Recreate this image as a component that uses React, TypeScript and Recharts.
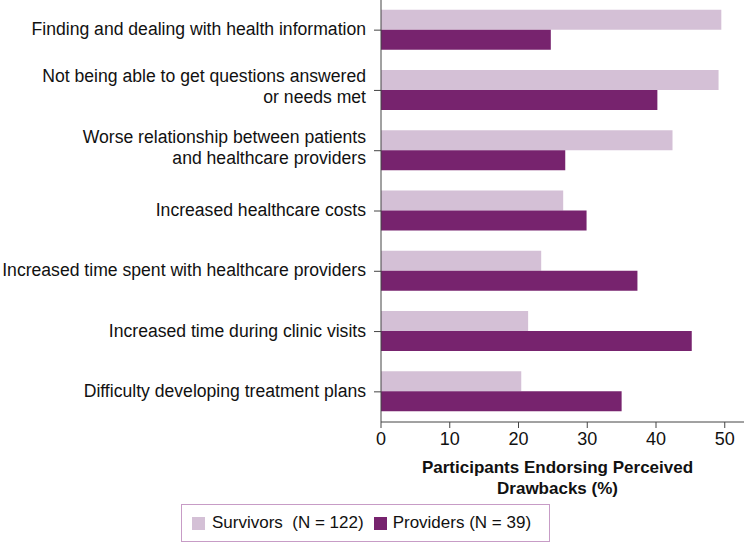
import React from 'react';
import { BarChart, Bar, XAxis, YAxis, Legend, Label } from 'recharts';

const categories: string[][] = [
  ['Finding and dealing with health information'],
  ['Not being able to get questions answered', 'or needs met'],
  ['Worse relationship between patients', 'and healthcare providers'],
  ['Increased healthcare costs'],
  ['Increased time spent with healthcare providers'],
  ['Increased time during clinic visits'],
  ['Difficulty developing treatment plans'],
];
const survivors: number[] = [49.5, 49.1, 42.4, 26.5, 23.3, 21.4, 20.4];
const providers: number[] = [24.7, 40.2, 26.8, 29.9, 37.3, 45.2, 35.0];
const xTicks: number[] = [0, 10, 20, 30, 40, 50];
const seriesNames = ['Survivors  (N = 122)', 'Providers (N = 39)'];

const LIGHT = '#d4c0d6';
const DARK = '#77236e';
const FONT = '"Liberation Sans", Arial, sans-serif';
const INK = '#111';

const data = categories.map((c, i) => ({
  name: c.join('|'),
  survivors: survivors[i],
  providers: providers[i],
}));

const CatTick = (props: any) => {
  const { x, y, payload } = props;
  const lines: string[] = String(payload.value).split('|');
  const lh = 21;
  const startDy = lines.length === 1 ? 5 : -8;
  return (
    <text x={x - 6} y={y} textAnchor="end" fontFamily={FONT} fontSize={17.6} fill={INK}>
      {lines.map((l, i) => (
        <tspan key={i} x={x - 6} dy={i === 0 ? startDy : lh}>
          {l}
        </tspan>
      ))}
    </text>
  );
};

const AxisTitle = (props: any) => {
  const vb = props.viewBox || {};
  const cx = vb.x + vb.width / 2 - 5;
  const y0 = vb.y + 51;
  return (
    <text x={cx} textAnchor="middle" fontFamily={FONT} fontWeight="bold" fontSize={17} fill={INK}>
      <tspan x={cx} y={y0}>Participants Endorsing Perceived</tspan>
      <tspan x={cx} y={y0 + 21}>Drawbacks (%)</tspan>
    </text>
  );
};

const LegendBox = () => (
  <div
    style={{
      border: '1px solid #c79cc6',
      width: 369,
      height: 38,
      boxSizing: 'border-box',
      display: 'flex',
      alignItems: 'center',
      paddingLeft: 10,
      fontFamily: FONT,
      fontSize: 17,
      color: INK,
      whiteSpace: 'pre',
    }}
  >
    <span style={{ display: 'inline-block', width: 13, height: 13, background: LIGHT, marginRight: 7 }} />
    <span>{seriesNames[0]}</span>
    <span style={{ display: 'inline-block', width: 13, height: 13, background: DARK, marginLeft: 10, marginRight: 6 }} />
    <span>{seriesNames[1]}</span>
  </div>
);

export default function App() {
  return (
    <div style={{ position: 'absolute', left: 0, top: 0, width: 744, height: 543, background: '#fff' }}>
      <BarChart
        width={744}
        height={543}
        data={data}
        layout="vertical"
        margin={{ top: 0, right: 0, bottom: 0, left: 0 }}
        barCategoryGap="16%"
        barGap={0}
      >
        <XAxis
          type="number"
          domain={[0, 52.8]}
          ticks={xTicks}
          allowDataOverflow
          height={121}
          tickSize={6}
          tickMargin={4}
          tick={{ fontFamily: FONT, fontSize: 18, fill: INK }}
          stroke="#444"
          axisLine={{ stroke: '#444' }}
          tickLine={{ stroke: '#444' }}
        >
          <Label content={<AxisTitle />} />
        </XAxis>
        <YAxis
          type="category"
          dataKey="name"
          width={381}
          tickSize={7}
          tick={<CatTick />}
          stroke="#444"
          interval={0}
        />
        <Bar dataKey="survivors" fill={LIGHT} isAnimationActive={false} name={seriesNames[0]} />
        <Bar dataKey="providers" fill={DARK} isAnimationActive={false} name={seriesNames[1]} />
        <Legend
          layout="horizontal"
          verticalAlign="middle"
          align="center"
          content={<LegendBox />}
          wrapperStyle={{ position: 'absolute', left: 181, top: 504, width: 369, height: 38 }}
        />
      </BarChart>
    </div>
  );
}
